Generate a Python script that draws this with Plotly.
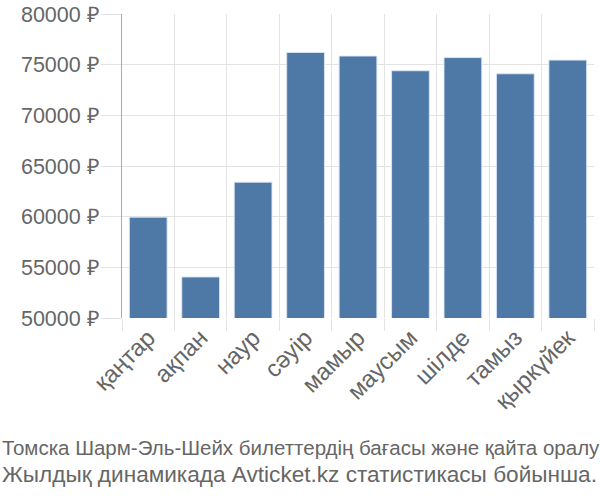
import plotly.graph_objects as go

months = ["қаңтар", "ақпан", "наур", "сәуір", "мамыр", "маусым", "шілде", "тамыз", "қыркүйек"]
prices = [59950, 54050, 63400, 76200, 75850, 74400, 75700, 74100, 75450]

title_lines = [
    "Томска Шарм-Эль-Шейх билеттердің бағасы және қайта оралу",
    "Жылдық динамикада Avticket.kz статистикасы бойынша.",
]
title_sizes = [20.5, 22.6]

L, R, T, B = 122, 6, 14, 182
W, H = 600, 500
pw, ph = W - L - R, H - T - B

fig = go.Figure(
    go.Bar(
        x=months,
        y=prices,
        width=0.72,
        marker=dict(color="#4e79a7", line=dict(color="rgba(220,230,245,0.9)", width=1)),
    )
)

annotations = []
for txt, ypx, sz in zip(title_lines, [447, 474], title_sizes):
    annotations.append(dict(
        text=txt,
        xref="paper", yref="paper",
        x=(0 - L) / pw, xanchor="left",
        y=(H - B - ypx) / ph, yanchor="middle",
        showarrow=False,
        font=dict(family="Liberation Sans Narrow, Liberation Sans, sans-serif", size=sz, color="#666666"),
    ))

fig.update_layout(
    width=W,
    height=H,
    margin=dict(l=L, r=R, t=T, b=B, autoexpand=False),
    paper_bgcolor="white",
    plot_bgcolor="white",
    showlegend=False,
    font=dict(family="Liberation Sans, Arial, sans-serif", color="#666666", size=22),
    annotations=annotations,
)

fig.update_xaxes(
    type="category",
    tickson="boundaries",
    showgrid=True,
    gridcolor="#e3e3e3",
    gridwidth=1,
    ticks="outside",
    ticklen=12,
    tickcolor="#e3e3e3",
    tickangle=-45,
    showline=False,
    automargin=False,
    tickfont=dict(size=24, color="#666666"),
    range=[-0.5, len(months) - 0.5],
)

fig.update_yaxes(
    range=[50000, 80000],
    dtick=5000,
    tick0=50000,
    ticksuffix=" ₽",
    tickformat="d",
    showgrid=True,
    gridcolor="#e3e3e3",
    gridwidth=1,
    ticks="outside",
    ticklen=20,
    ticklabelstandoff=-3,
    tickcolor="#e3e3e3",
    showline=True,
    linecolor="#aaaaaa",
    linewidth=1,
    zeroline=False,
    automargin=False,
    tickfont=dict(size=21.5, color="#666666"),
)

fig.write_html("out.html", config={"displayModeBar": False},
               post_script="document.body.style.margin='0';")
